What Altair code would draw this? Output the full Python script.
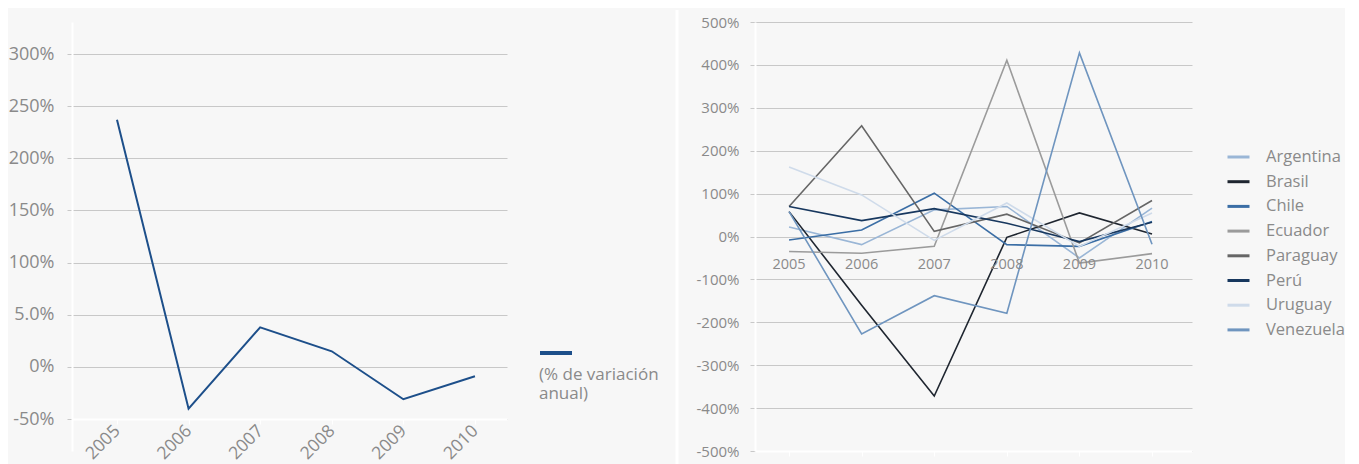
import altair as alt
import pandas as pd

# ---------------- data ----------------
years = ["2005", "2006", "2007", "2008", "2009", "2010"]
total_pct = [237, -40, 38, 15, -31, -9]

countries = ["Argentina", "Brasil", "Chile", "Ecuador", "Paraguay", "Perú", "Uruguay", "Venezuela"]
argentina = [22, -19, 62, 70, -50, 66]
brasil = [58, -160, -372, -2, 55, 6]
chile = [-8, 15, 101, -19, -23, 35]
ecuador = [-35, -39, -23, 411, -62, -40]
paraguay = [70, 258, 12, 52, -15, 84]
peru = [70, 37, 65, 31, -12, 33]
uruguay = [162, 97, -9, 78, -23, 55]
venezuela = [58, -227, -138, -179, 428, -18]
series = [argentina, brasil, chile, ecuador, paraguay, peru, uruguay, venezuela]
colors = ["#9ab6d6", "#1f2630", "#3b6ea5", "#9b9b9b", "#666666", "#17375e", "#cfdbea", "#6f95bf"]

left_ticks = [-50, 0, 50, 100, 150, 200, 250, 300]
right_ticks = [-500, -400, -300, -200, -100, 0, 100, 200, 300, 400, 500]
legend_text = "(% de variación|anual)"

FONT = "Open Sans"
GRAY = "#8a8a8a"
GRID = "#c8c8c8"
BLUE = "#1d4f8a"
BG = "#f7f7f7"

left_df = pd.DataFrame({"year": years, "value": total_pct})
rows = []
for c, vals in zip(countries, series):
    for y, v in zip(years, vals):
        rows.append({"country": c, "year": y, "value": v})
right_df = pd.DataFrame(rows)
year_df = pd.DataFrame({"year": years})
leg_df = pd.DataFrame({"label": [legend_text]})

# ---------------- left chart ----------------
left_line = alt.Chart(left_df).mark_line(color=BLUE, strokeWidth=2).encode(
    x=alt.X("year:O", scale=alt.Scale(type="point", padding=0.538, align=0.584),
            axis=alt.Axis(title=None, labelAngle=315, labelAlign="right", labelBaseline="middle",
                          labelFont=FONT, labelFontSize=17.5, labelColor=GRAY, labelPadding=4,
                          domainColor="white", domainWidth=2, tickColor="white", tickSize=5,
                          offset=-32, zindex=1, grid=False)),
    y=alt.Y("value:Q", scale=alt.Scale(domain=[-80.6, 330.7], nice=False, zero=False),
            axis=alt.Axis(title=None, values=left_ticks,
                          labelExpr="datum.value == 50 ? '5.0%' : datum.value + '%'",
                          labelFont=FONT, labelFontSize=18, labelColor=GRAY, labelPadding=13,
                          tickColor=GRID, tickSize=5, domainColor="white", domainWidth=2,
                          gridColor=GRID, gridWidth=1)),
)

left_leg_rule = alt.Chart(leg_df).mark_rule(color=BLUE, strokeWidth=4).encode(
    x=alt.value(468), x2=alt.value(500), y=alt.value(331)
)
left_leg_text = alt.Chart(leg_df).mark_text(
    font=FONT, fontSize=17, color=GRAY, align="left", baseline="top", lineBreak="|", lineHeight=19
).encode(x=alt.value(467), y=alt.value(345), text="label:N")

left = alt.layer(left_line, left_leg_rule, left_leg_text).properties(width=435, height=429)

# ---------------- right chart ----------------
right_x_axis = alt.Axis(title=None, labels=False, domainColor="white", domainWidth=2,
                        tickColor="white", tickSize=5, zindex=1, grid=False)
right_y_axis = alt.Axis(title=None, values=right_ticks, labelExpr="datum.value + '%'",
                        labelFont=FONT, labelFontSize=15, labelColor=GRAY, labelPadding=11,
                        tickColor=GRID, tickSize=5, domainColor="white", domainWidth=2,
                        gridColor=GRID, gridWidth=1)
right_x_scale = alt.Scale(type="point", padding=0.51, align=0.46)
right_y_scale = alt.Scale(domain=[-500, 500], nice=False)

lines = alt.Chart(right_df).mark_line(strokeWidth=1.6).encode(
    x=alt.X("year:O", scale=right_x_scale, axis=right_x_axis),
    y=alt.Y("value:Q", scale=right_y_scale, axis=right_y_axis),
    color=alt.Color("country:N", scale=alt.Scale(domain=countries, range=colors),
                    legend=alt.Legend(title=None, orient="none", legendX=471, legendY=122.5,
                                      symbolType="stroke", symbolSize=484, symbolStrokeWidth=3,
                                      labelFont=FONT, labelFontSize=16.5, labelColor=GRAY,
                                      labelOffset=15, rowPadding=3.7, padding=0)),
    detail="country:N",
)

year_labels = alt.Chart(year_df).mark_text(font=FONT, fontSize=14.5, color=GRAY, dy=28.5).encode(
    x=alt.X("year:O", scale=right_x_scale, axis=right_x_axis),
    y=alt.YDatum(0, type="quantitative", scale=right_y_scale, axis=right_y_axis),
    text="year:O",
)

separator = alt.Chart(leg_df).mark_rule(color="white", strokeWidth=3).encode(
    x=alt.value(-78), y=alt.value(-12), y2=alt.value(443)
)

right = alt.layer(lines, year_labels, separator).properties(width=437, height=429)

chart = alt.hconcat(left, right, spacing=248, bounds="flush").resolve_scale(
    x="independent", y="independent", color="independent"
).properties(
    background=BG, padding={"left": 0, "top": 0, "right": 0, "bottom": 0}
).configure_view(stroke=None)

chart.save("out.html", embed_options={"renderer": "svg", "actions": False})
